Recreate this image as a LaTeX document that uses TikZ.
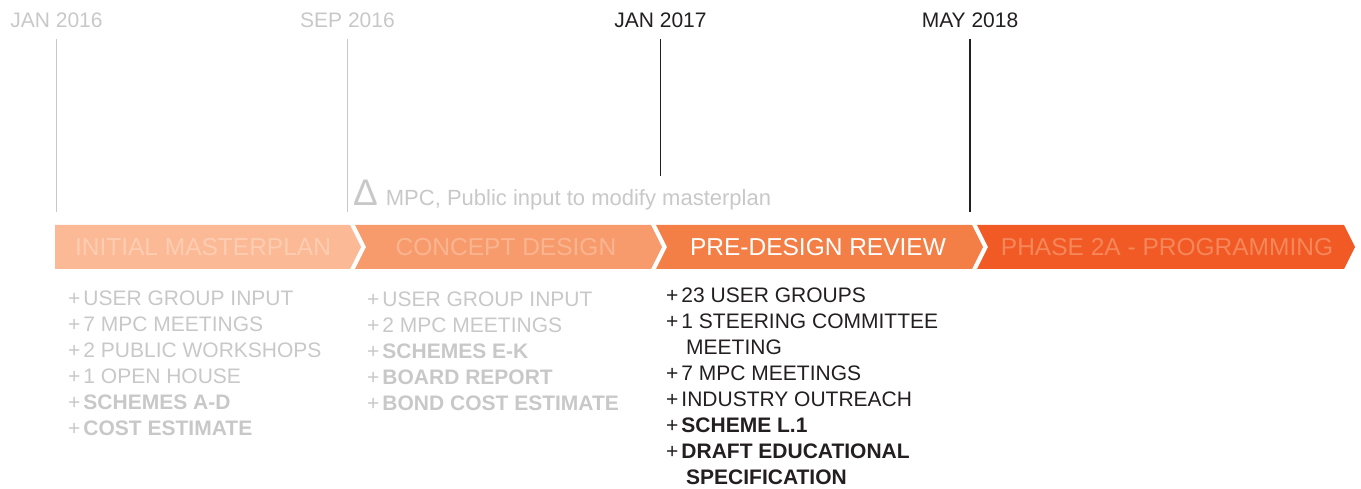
\documentclass[tikz,border=0pt]{standalone}
\usepackage{fontspec}
\setmainfont{Liberation Sans}
\usepackage{tikz}
\usetikzlibrary{positioning}

\definecolor{lightgrey}{HTML}{C8C8C8}
\definecolor{inkblack}{HTML}{231F20}
\definecolor{phaseA}{HTML}{FBB996}
\definecolor{phaseAtext}{HTML}{FDCDB2}
\definecolor{phaseB}{HTML}{F79B6D}
\definecolor{phaseBtext}{HTML}{FAB590}
\definecolor{phaseC}{HTML}{F37F46}
\definecolor{phaseD}{HTML}{F15A25}
\definecolor{phaseDtext}{HTML}{F5875A}

\newcommand{\itemplus}{+\hspace{3pt}}

\begin{document}
\begin{tikzpicture}[x=1pt,y=-1pt,
		datelabel/.style={font=\fontsize{21}{21}\selectfont,anchor=base,text depth=0pt,inner sep=0pt,outer ysep=11pt},
		datetick/.style={line width=1.2pt},
		phaselabel/.style={font=\fontsize{24.5}{24.5}\selectfont,inner sep=0pt},
		itemlist/.style={font=\fontsize{21}{26}\selectfont,align=left,anchor=north west,inner sep=0pt}]
		\useasboundingbox (0,0) rectangle (1361,489);

		\coordinate (tickend) at (0,212);
		\coordinate (tickshort) at (0,176);

		\node[datelabel,text=lightgrey] (jan16) at (56.5,28) {JAN 2016};
		\node[datelabel,text=lightgrey] (sep16) at (347.5,28) {SEP 2016};
		\node[datelabel,text=inkblack] (jan17) at (660.5,28) {JAN 2017};
		\node[datelabel,text=inkblack] (may18) at (970,28) {MAY 2018};

		\draw[datetick,lightgrey] (jan16.south) -- (jan16.south |- tickend);
		\draw[datetick,lightgrey] (sep16.south) -- (sep16.south |- tickend);
		\draw[datetick,inkblack,line width=1.5pt] (jan17.south) -- (jan17.south |- tickshort);
		\draw[datetick,inkblack,line width=1.5pt] (may18.south) -- (may18.south |- tickend);

		\node[anchor=base west,inner sep=0pt,text=lightgrey,font=\fontsize{22}{22}\selectfont] (modify) at (353,206)
			{\fontsize{37}{37}\selectfont Δ\fontsize{22}{22}\selectfont\hspace{8pt}MPC, Public input to modify masterplan};

		\fill[phaseA] (55,225) -- (350,225) -- (361,247) -- (350,269) -- (55,269) -- cycle;
		\fill[phaseB] (355,225) -- (651,225) -- (662,247) -- (651,269) -- (355,269) -- (366,247) -- cycle;
		\fill[phaseC] (656,225) -- (972,225) -- (983,247) -- (972,269) -- (656,269) -- (667,247) -- cycle;
		\fill[phaseD] (977,225) -- (1344,225) -- (1355,247) -- (1344,269) -- (977,269) -- (988,247) -- cycle;

		\node[phaselabel,text=phaseAtext] (initial) at (203,247) {INITIAL MASTERPLAN};
		\node[phaselabel,text=phaseBtext] (concept) at (506,247) {CONCEPT DESIGN};
		\node[phaselabel,text=white] (predesign) at (818,247) {PRE-DESIGN REVIEW};
		\node[phaselabel,text=phaseDtext] (phase2a) at (1167,247) {PHASE 2A - PROGRAMMING};

		\node[itemlist,text=lightgrey] (initialitems) at (68,291)
			{\itemplus USER GROUP INPUT\\\itemplus 7 MPC MEETINGS\\\itemplus 2 PUBLIC WORKSHOPS\\\itemplus 1 OPEN HOUSE\\\itemplus\textbf{SCHEMES A-D}\\\itemplus\textbf{COST ESTIMATE}};
		\node[itemlist,text=lightgrey] (conceptitems) at (367,292)
			{\itemplus USER GROUP INPUT\\\itemplus 2 MPC MEETINGS\\\itemplus\textbf{SCHEMES E-K}\\\itemplus\textbf{BOARD REPORT}\\\itemplus\textbf{BOND COST ESTIMATE}};
		\node[itemlist,text=inkblack] (predesignitems) at (666,288)
			{\itemplus 23 USER GROUPS\\\itemplus 1 STEERING COMMITTEE\\\hspace*{20pt}MEETING\\\itemplus 7 MPC MEETINGS\\\itemplus INDUSTRY OUTREACH\\\itemplus\textbf{SCHEME L.1}\\\itemplus\textbf{DRAFT EDUCATIONAL}\\\hspace*{20pt}\textbf{SPECIFICATION}};

	\end{tikzpicture}
\end{document}
